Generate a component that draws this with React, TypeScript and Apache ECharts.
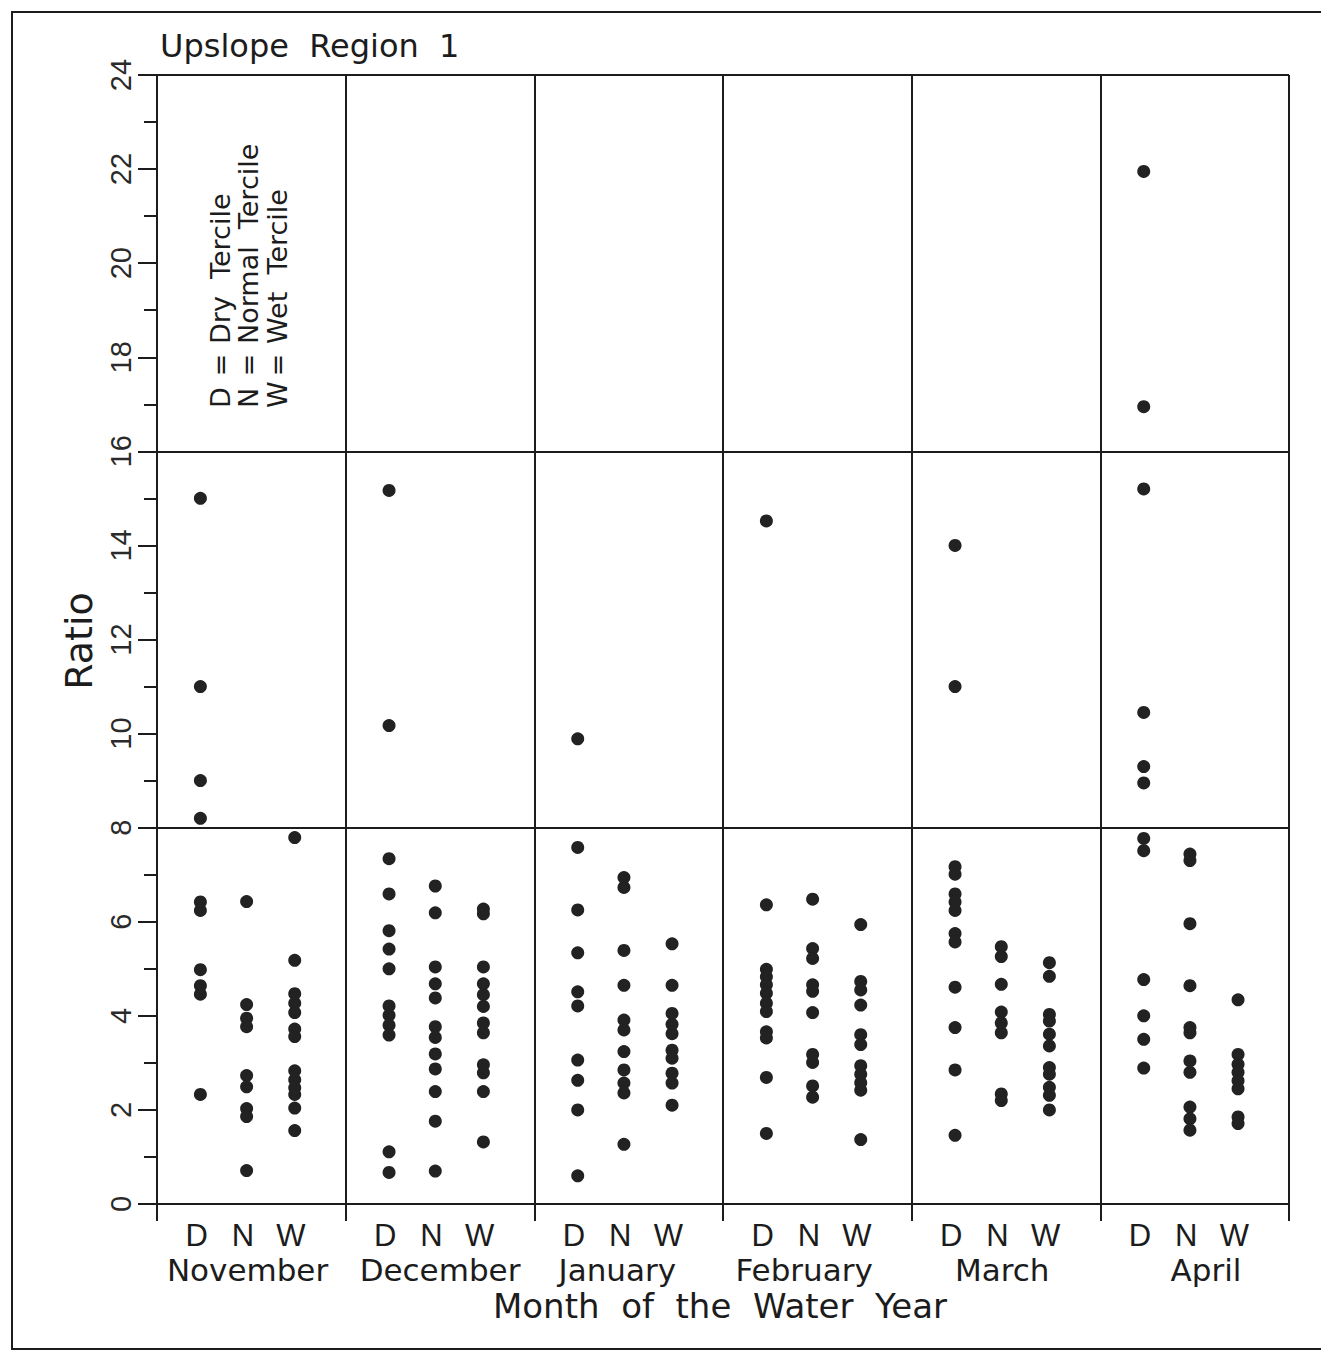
import React, { useEffect, useRef } from "react";
import * as echarts from "echarts";

// ---- Data ----
const MONTHS = ["November", "December", "January", "February", "March", "April"];
const TERCILES = ["D", "N", "W"];
const LEGEND_LINES = [
  ["D", "Dry  Tercile"],
  ["N", "Normal  Tercile"],
  ["W", "Wet  Tercile"],
];

const novD = [15.0, 11.0, 9.0, 8.2, 6.42, 6.24, 4.98, 4.64, 4.46, 2.33];
const novN = [6.43, 4.24, 3.95, 3.77, 2.73, 2.49, 2.03, 1.86, 0.71];
const novW = [7.79, 5.18, 4.47, 4.27, 4.07, 3.72, 3.56, 2.83, 2.64, 2.47, 2.33, 2.04, 1.56];

const decD = [15.17, 10.17, 7.34, 6.59, 5.81, 5.42, 5.0, 4.21, 4.01, 3.8, 3.59, 1.11, 0.67];
const decN = [6.76, 6.19, 5.04, 4.68, 4.38, 3.77, 3.54, 3.19, 2.87, 2.39, 1.76, 0.7];
const decW = [6.27, 6.17, 5.04, 4.68, 4.45, 4.2, 3.85, 3.64, 2.96, 2.79, 2.39, 1.32];

const janD = [9.89, 7.58, 6.25, 5.34, 4.51, 4.21, 3.06, 2.63, 2.0, 0.6];
const janN = [6.94, 6.73, 5.39, 4.65, 3.91, 3.7, 3.24, 2.85, 2.57, 2.36, 1.27];
const janW = [5.53, 4.65, 4.05, 3.82, 3.62, 3.27, 3.1, 2.78, 2.57, 2.1];

const febD = [14.52, 6.36, 4.99, 4.83, 4.66, 4.48, 4.27, 4.09, 3.66, 3.53, 2.69, 1.5];
const febN = [6.48, 5.43, 5.22, 4.66, 4.52, 4.07, 3.18, 3.01, 2.51, 2.27];
const febW = [5.94, 4.73, 4.55, 4.23, 3.6, 3.39, 2.94, 2.76, 2.58, 2.42, 1.37];

const marD = [14.0, 11.0, 7.17, 7.01, 6.59, 6.42, 6.24, 5.75, 5.57, 4.61, 3.75, 2.85, 1.46];
const marN = [5.47, 5.26, 4.67, 4.08, 3.85, 3.64, 2.34, 2.2];
const marW = [5.13, 4.84, 4.03, 3.89, 3.61, 3.36, 2.9, 2.76, 2.48, 2.31, 2.0];

const aprD = [21.95, 16.95, 15.2, 10.45, 9.3, 8.95, 7.77, 7.51, 4.77, 4.0, 3.5, 2.89];
const aprN = [7.44, 7.3, 5.96, 4.64, 3.75, 3.64, 3.04, 2.8, 2.06, 1.81, 1.57];
const aprW = [4.34, 3.18, 2.97, 2.8, 2.62, 2.45, 1.85, 1.71];

const VALUES = [
  [novD, novN, novW],
  [decD, decN, decW],
  [janD, janN, janW],
  [febD, febN, febW],
  [marD, marN, marW],
  [aprD, aprN, aprW],
];

// ---- Layout ----
const TERCILE_OFFSET = [0.23, 0.475, 0.73];
const MONTH_LABEL_NUDGE = [-0.02, 0.0, -0.06, -0.07, -0.02, 0.06];
const INK = "#1c1c1c";
const SANS = "'DejaVu Sans', sans-serif";
const NUM = "'Liberation Sans', Arial, sans-serif";
const NARROW = "'Liberation Sans Narrow', 'Liberation Sans', sans-serif";

function buildOption() {
  const points: number[][] = [];
  VALUES.forEach((month, mi) => {
    month.forEach((vals, ti) => {
      vals.forEach((v) => points.push([mi + TERCILE_OFFSET[ti], v]));
    });
  });
  const tercilePos: number[] = [];
  MONTHS.forEach((_, mi) => TERCILE_OFFSET.forEach((o) => tercilePos.push(mi + o - 0.02)));
  const monthPos = MONTHS.map((_, mi) => mi + 0.5 + MONTH_LABEL_NUDGE[mi]);

  const tercileOf = (v: number) => {
    const f = v - Math.floor(v);
    let best = 0;
    TERCILE_OFFSET.forEach((o, i) => {
      if (Math.abs(f - (o - 0.02)) < Math.abs(f - (TERCILE_OFFSET[best] - 0.02))) best = i;
    });
    return TERCILES[best];
  };

  const legend: any[] = [];
  LEGEND_LINES.forEach(([k, desc], i) => {
    const x = 220 + i * 28.5;
    legend.push({
      type: "text", x, y: 408, rotation: Math.PI / 2,
      style: { text: k, fontSize: 27, fontFamily: SANS, fill: INK, align: "left", verticalAlign: "middle" },
    });
    legend.push({
      type: "text", x, y: 365, rotation: Math.PI / 2,
      style: { text: "=", fontSize: 27, fontFamily: SANS, fill: INK, align: "center", verticalAlign: "middle" },
    });
    legend.push({
      type: "text", x, y: 344, rotation: Math.PI / 2,
      style: { text: desc, fontSize: 27, fontFamily: SANS, fill: INK, align: "left", verticalAlign: "middle" },
    });
  });

  return {
    animation: false,
    backgroundColor: "#ffffff",
    grid: { left: 157, top: 75, width: 1132, height: 1129, containLabel: false },
    xAxis: [
      {
        type: "value", min: 0, max: 6, interval: 1,
        axisLine: { show: true, lineStyle: { color: INK, width: 2 } },
        axisTick: { show: true, inside: false, length: 17, lineStyle: { color: INK, width: 2 } },
        axisLabel: { show: false },
        splitLine: { show: true, lineStyle: { color: INK, width: 2 } },
      },
      {
        type: "value", min: 0, max: 6, position: "bottom",
        axisLine: { show: false }, axisTick: { show: false }, splitLine: { show: false },
        axisLabel: {
          show: true, customValues: tercilePos, formatter: (v: number) => tercileOf(v),
          margin: 16, fontSize: 31, fontFamily: NARROW, color: INK,
        },
      },
      {
        type: "value", min: 0, max: 6, position: "bottom",
        axisLine: { show: false }, axisTick: { show: false }, splitLine: { show: false },
        axisLabel: {
          show: true, customValues: monthPos, formatter: (v: number) => MONTHS[Math.floor(v)],
          margin: 50, fontSize: 31, fontFamily: SANS, color: INK,
        },
      },
    ],
    yAxis: [
      {
        type: "value", min: 0, max: 24, interval: 2, position: "left",
        axisLine: { show: true, lineStyle: { color: INK, width: 2 } },
        axisTick: { show: true, inside: false, length: 19, lineStyle: { color: INK, width: 2 } },
        minorTick: { show: true, splitNumber: 2, length: 13, lineStyle: { color: INK, width: 2 } },
        minorSplitLine: { show: false },
        axisLabel: { show: true, rotate: 90, margin: 22, fontSize: 29, fontFamily: NUM, color: "#2a2a2a" },
        splitLine: { show: false },
      },
      {
        type: "value", min: 0, max: 24, interval: 8, position: "right",
        axisLine: { show: false }, axisTick: { show: false }, axisLabel: { show: false },
        splitLine: { show: true, lineStyle: { color: INK, width: 2 } },
      },
    ],
    series: [
      {
        type: "scatter", xAxisIndex: 0, yAxisIndex: 0, data: points,
        symbol: "circle", symbolSize: 13, itemStyle: { color: "#222222", opacity: 1 },
        silent: true,
      },
    ],
    graphic: [
      {
        type: "rect", shape: { x: 12, y: 12, width: 1330, height: 1337 },
        style: { fill: "none", stroke: INK, lineWidth: 2 }, silent: true,
      },
      {
        type: "text", x: 160, y: 46,
        style: { text: "Upslope  Region  1", fontSize: 32, fontFamily: SANS, fill: INK, align: "left", verticalAlign: "middle" },
      },
      {
        type: "text", x: 79, y: 641, rotation: Math.PI / 2,
        style: { text: "Ratio", fontSize: 38, fontFamily: SANS, fill: INK, align: "center", verticalAlign: "middle" },
      },
      {
        type: "text", x: 720, y: 1306,
        style: { text: "Month  of  the  Water  Year", fontSize: 34, fontFamily: SANS, fill: INK, align: "center", verticalAlign: "middle" },
      },
      ...legend,
    ],
  };
}

export default function App() {
  const ref = useRef<HTMLDivElement>(null);
  useEffect(() => {
    document.body.style.margin = "0";
    if (!ref.current) return;
    const chart = echarts.init(ref.current, undefined, { renderer: "svg" });
    chart.setOption(buildOption() as any);
    return () => chart.dispose();
  }, []);
  return <div ref={ref} style={{ width: 1321, height: 1352 }} />;
}
